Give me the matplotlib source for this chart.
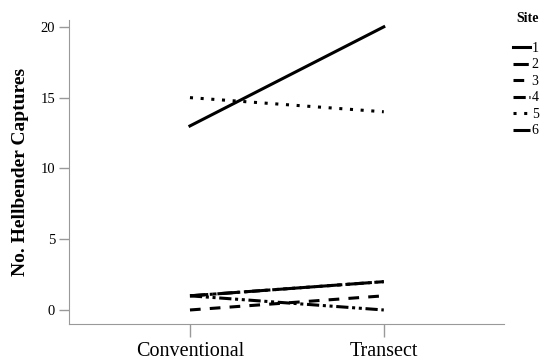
import matplotlib.pyplot as plt

plt.rcParams['font.family'] = 'Liberation Serif'

methods = ['Conventional', 'Transect']
sites = ['1', '2', '3', '4', '5', '6']
site1 = [13, 20]
site2 = [1, 2]
site3 = [0, 1]
site4 = [1, 0]
site5 = [15, 14]
site6 = [1, 2]

styles = [
    dict(linestyle='-'),
    dict(linestyle=(0, (5, 1.5, 1, 1.5))),
    dict(linestyle=(0, (3.5, 3))),
    dict(linestyle=(0, (4, 1.2, 1, 1.2, 1, 1.2))),
    dict(linestyle=(0, (1, 2.5))),
    dict(linestyle=(0, (6, 1.5, 1.2, 1.5))),
]

fig = plt.figure(figsize=(5.46, 3.62), dpi=100)
ax = fig.add_axes([0.1264, 0.105, 0.7966, 0.84])

x = [0, 1]
for name, vals, st in zip(sites, [site1, site2, site3, site4, site5, site6], styles):
    ax.plot(x, vals, color='black', linewidth=2.2, label=name, **st)

ax.set_xlim(-0.624, 1.62)
ax.set_ylim(-0.99, 20.49)
ax.set_xticks(x)
ax.set_xticklabels(methods, fontsize=14.5)
ax.set_yticks([0, 5, 10, 15, 20])
ax.tick_params(axis='y', labelsize=10.5, length=7, color='#999999', width=1, pad=3)
ax.tick_params(axis='x', length=9, color='#999999', width=1, pad=4)
for s in ['top', 'right']:
    ax.spines[s].set_visible(False)
for s in ['left', 'bottom']:
    ax.spines[s].set_color('#999999')
ax.set_ylabel('No. Hellbender Captures', fontsize=14, fontweight='bold')
ax.yaxis.set_label_coords(-0.093, 0.5)

# legend title drawn on its own so the gap above the entries can be set
fig.text(516 / 546, 1 - 18 / 362, 'Site', fontsize=10, fontweight='bold',
         ha='left', va='center')
leg = fig.legend(loc='upper left', bbox_to_anchor=(513 / 546, 1 - 42 / 362),
                 frameon=False, fontsize=10, handlelength=1.25, handletextpad=0.1,
                 labelspacing=0.25, borderpad=0, borderaxespad=0)

fig.savefig('out.png', dpi=100)
